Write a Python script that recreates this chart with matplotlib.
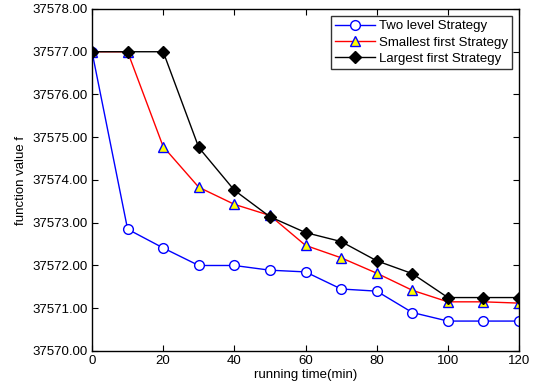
import matplotlib
matplotlib.use('Agg')
import matplotlib.pyplot as plt

# ── Data ──────────────────────────────────────────────────────────────────────
time_min = [0, 10, 20, 30, 40, 50, 60, 70, 80, 90, 100, 110, 120]
two_level = [37577.00, 37572.85, 37572.41, 37572.00, 37572.00, 37571.89, 37571.85,
             37571.45, 37571.40, 37570.90, 37570.70, 37570.70, 37570.70]
smallest_first = [37577.00, 37577.00, 37574.78, 37573.83, 37573.43, 37573.17, 37572.47,
                  37572.18, 37571.82, 37571.42, 37571.15, 37571.15, 37571.12]
largest_first = [37577.00, 37577.00, 37577.00, 37574.76, 37573.76, 37573.14, 37572.77,
                 37572.56, 37572.11, 37571.81, 37571.25, 37571.25, 37571.25]

plt.rcParams['font.family'] = ['Liberation Sans', 'DejaVu Sans']
FS = 9.5

fig = plt.figure(figsize=(5.39, 3.89), dpi=100)
ax = fig.add_axes([0.1707, 0.0977, 0.7923, 0.8792])

ax.plot(time_min, two_level, color='blue', lw=1, marker='o', ms=7,
        mfc='white', mec='blue', mew=1, label='Two level Strategy')
ax.plot(time_min, smallest_first, color='red', lw=1, marker='^', ms=7,
        mfc='yellow', mec='blue', mew=1, label='Smallest first Strategy')
ax.plot(time_min, largest_first, color='black', lw=1, marker='D', ms=6,
        mfc='black', mec='black', mew=1, label='Largest first Strategy')

ax.set_xlim(0, 120)
ax.set_ylim(37570, 37578)
ax.set_xticks(range(0, 121, 20))
ax.set_yticks(range(37570, 37579))
ax.set_yticklabels([f'{v:.2f}' for v in range(37570, 37579)])
ax.tick_params(direction='in', top=True, right=True, labelsize=FS, length=4, pad=3)
for s in ax.spines.values():
    s.set_linewidth(1)

ax.set_xlabel('running time(min)', fontsize=FS, labelpad=1)
ax.set_ylabel('function value f', fontsize=FS, labelpad=4)

leg = ax.legend(loc='upper right', fontsize=FS, frameon=True, fancybox=False,
                edgecolor='black', borderpad=0.35, labelspacing=0.3,
                handlelength=3, handletextpad=0.3, borderaxespad=0.5)
leg.get_frame().set_linewidth(1)

plt.savefig('out.png', dpi=100)
